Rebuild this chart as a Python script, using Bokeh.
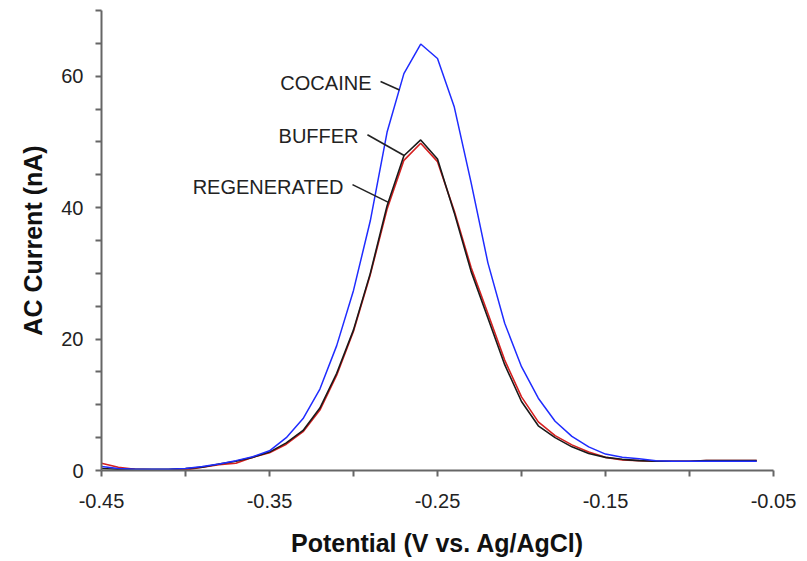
from bokeh.plotting import figure
from bokeh.models import FixedTicker, PrintfTickFormatter, Range1d
from bokeh.core.properties import value
from bokeh.embed import file_html
from bokeh.resources import INLINE

potential = [-0.45, -0.44, -0.43, -0.42, -0.41, -0.40, -0.39, -0.38, -0.37, -0.36,
             -0.35, -0.34, -0.33, -0.32, -0.31, -0.30, -0.29, -0.28, -0.27, -0.26,
             -0.25, -0.24, -0.23, -0.22, -0.21, -0.20, -0.19, -0.18, -0.17, -0.16,
             -0.15, -0.14, -0.13, -0.12, -0.11, -0.10, -0.09, -0.08, -0.07, -0.06]

cocaine = [0.6, 0.3, 0.2, 0.2, 0.2, 0.3, 0.6, 1.0, 1.5, 2.1,
           3.0, 5.0, 7.9, 12.4, 19.0, 27.4, 38.0, 51.5, 60.4, 64.9,
           62.7, 55.3, 43.8, 31.6, 22.4, 15.8, 11.0, 7.5, 5.2, 3.6,
           2.5, 2.0, 1.8, 1.5, 1.4, 1.4, 1.4, 1.4, 1.4, 1.4]

buffer = [0.3, 0.2, 0.2, 0.2, 0.2, 0.3, 0.5, 1.0, 1.4, 2.0,
          2.8, 4.2, 6.1, 9.5, 14.8, 21.4, 30.0, 40.3, 47.9, 50.3,
          47.4, 39.2, 30.3, 23.2, 16.1, 10.5, 6.8, 5.0, 3.6, 2.6,
          2.0, 1.7, 1.5, 1.4, 1.4, 1.4, 1.5, 1.5, 1.5, 1.5]

regenerated = [1.1, 0.5, 0.2, 0.1, 0.1, 0.1, 0.5, 0.9, 1.1, 2.0,
               2.7, 4.0, 5.9, 9.2, 14.5, 21.2, 29.8, 39.8, 47.2, 49.8,
               47.0, 39.5, 30.9, 23.9, 16.8, 11.2, 7.4, 5.3, 3.9, 2.8,
               2.0, 1.6, 1.5, 1.4, 1.4, 1.4, 1.5, 1.5, 1.5, 1.5]

x_major = [-0.45, -0.35, -0.25, -0.15, -0.05]
x_minor = [-0.40, -0.30, -0.20, -0.10]
y_major = [0, 20, 40, 60]
y_minor = [5, 10, 15, 25, 30, 35, 45, 50, 55, 65, 70]

labels = ["COCAINE", "BUFFER", "REGENERATED"]

# annotation placement (label anchor and leader line ends)
label_x = [-0.2893, -0.297, -0.306]
label_y = [58.9, 50.9, 43.2]
lead_x0 = [-0.2839, -0.2917, -0.3006]
lead_y0 = [59.2, 51.1, 43.5]
lead_x1 = [-0.2726, -0.2696, -0.2792]
lead_y1 = [57.9, 47.9, 40.8]

FONT = "Liberation Sans"

p = figure(frame_width=672, frame_height=460,
           x_range=Range1d(-0.45, -0.05), y_range=Range1d(0, 70),
           output_backend="svg", toolbar_location=None,
           min_border_left=101, min_border_right=30,
           min_border_top=10, min_border_bottom=88)

p.xgrid.visible = False
p.ygrid.visible = False
p.outline_line_color = None
p.background_fill_color = "white"
p.border_fill_color = "white"

p.line(potential, regenerated, line_color="#d62020", line_width=1.6)
p.line(potential, buffer, line_color="#1a1a1a", line_width=1.6)
p.line(potential, cocaine, line_color="#1f2cff", line_width=1.5)

p.segment(x0=lead_x0, y0=lead_y0, x1=lead_x1, y1=lead_y1,
          line_color="#222222", line_width=1.6)
p.text(x=label_x, y=label_y, text=labels, text_align="right",
       text_baseline="middle", text_font=value(FONT),
       text_font_size="20px", text_color="#222222")

xa = p.xaxis[0]
xa.ticker = FixedTicker(ticks=x_major, minor_ticks=x_minor)
xa.formatter = PrintfTickFormatter(format="%.2f")
ya = p.yaxis[0]
ya.ticker = FixedTicker(ticks=y_major, minor_ticks=y_minor)

for ax in (xa, ya):
    ax.axis_line_color = "#666666"
    ax.axis_line_width = 2
    ax.major_tick_line_color = "#666666"
    ax.minor_tick_line_color = "#666666"
    ax.major_tick_line_width = 2
    ax.minor_tick_line_width = 2
    ax.major_tick_in = 0
    ax.minor_tick_in = 0
    ax.major_tick_out = 6
    ax.minor_tick_out = 6
    ax.major_label_text_font = FONT
    ax.major_label_text_font_size = "20px"
    ax.major_label_text_color = "#222222"
    ax.axis_label_text_font = FONT
    ax.axis_label_text_font_size = "25px"
    ax.axis_label_text_font_style = "bold"
    ax.axis_label_text_color = "#111111"

xa.axis_label = "Potential (V vs. Ag/AgCl)"
ya.axis_label = "AC Current (nA)"
xa.major_label_standoff = 17
ya.major_label_standoff = 12
xa.axis_label_standoff = 18
ya.axis_label_standoff = 11

open("out.html", "w").write(file_html(p, INLINE))
